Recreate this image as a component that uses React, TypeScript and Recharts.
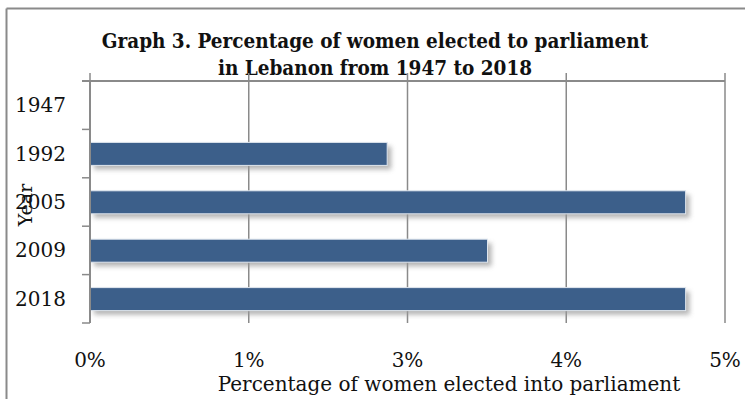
import React from 'react';
import { BarChart, Bar, XAxis, YAxis, CartesianGrid, Customized } from 'recharts';

const years = ['1947', '1992', '2005', '2009', '2018'];
const percentWomen = [0, 2.34, 4.69, 3.13, 4.69];
const xTicks = [0, 1.25, 2.5, 3.75, 5];
const titleLines = ['Graph 3. Percentage of women elected to parliament', 'in Lebanon from 1947 to 2018'];
const xAxisTitle = 'Percentage of women elected into parliament';
const yAxisTitle = 'Year';

const data = years.map((y, i) => ({ year: y, value: percentWomen[i] }));

const W = 745;
const H = 399;
const MARGIN = { top: 81, right: 20, bottom: 0, left: 0 };
const PLOT_RIGHT = W - MARGIN.right;
const TICK_LEN = 8;

const GRAY = '#8a8a8a';
const BAR = '#3c5f8a';
const SERIF = '"DejaVu Serif", serif';
const TITLE_FONT = '"DejaVu Serif Condensed", "DejaVu Serif", serif';

const YTick = (props: any) => {
  const { x, y, payload, index, visibleTicksCount } = props;
  const off = payload && typeof payload.offset === 'number' ? payload.offset : 0;
  const last = index === (visibleTicksCount ?? years.length) - 1;
  return (
    <g>
      <line x1={x - TICK_LEN} x2={index === 0 ? PLOT_RIGHT : x} y1={y - off} y2={y - off} stroke={GRAY} strokeWidth={index === 0 ? 2 : 1.5} />
      {last && <line x1={x - TICK_LEN} x2={x} y1={y + off} y2={y + off} stroke={GRAY} strokeWidth={1.5} />}
      <text x={x - 24} y={y} dy="0.35em" textAnchor="end" fontFamily={SERIF} fontSize={20} fill="#111">
        {payload.value}
      </text>
    </g>
  );
};

const XTick = (props: any) => {
  const { x, y, payload } = props;
  return (
    <g>
      <line x1={x} x2={x} y1={MARGIN.top - TICK_LEN} y2={MARGIN.top} stroke={GRAY} strokeWidth={1.5} />
      <text x={x} y={y} dy="0.71em" textAnchor="middle" fontFamily={SERIF} fontSize={20} fill="#111">
        {`${Math.round(payload.value)}%`}
      </text>
    </g>
  );
};

const ShadowBar = (props: any) => {
  const { x, y, width, height, index } = props;
  if (!width || width <= 0) return null;
  const id = `shadow-${index}`;
  return (
    <g>
      <defs>
        <filter id={id} x="-10%" y="-40%" width="130%" height="200%">
          <feGaussianBlur stdDeviation="2.5" />
        </filter>
      </defs>
      <rect x={x + 4} y={y + 4} width={width} height={height} fill="#9a9a9a" opacity={0.75} filter={`url(#${id})`} />
      <rect x={x} y={y} width={width} height={height} fill={BAR} stroke="#dfe6ee" strokeWidth={1} />
    </g>
  );
};

const Decor = () => (
  <g>
    <line x1={6.5} y1={8.5} x2={W} y2={8.5} stroke={GRAY} strokeWidth={2} />
    <line x1={6.5} y1={8.5} x2={6.5} y2={H} stroke={GRAY} strokeWidth={2} />
    <text x={375} y={48} textAnchor="middle" fontFamily={TITLE_FONT} fontWeight="bold" fontSize={20.5} fill="#111">
      {titleLines[0]}
    </text>
    <text x={375} y={75} textAnchor="middle" fontFamily={TITLE_FONT} fontWeight="bold" fontSize={20.5} fill="#111">
      {titleLines[1]}
    </text>
    <text x={449} y={391} textAnchor="middle" fontFamily={SERIF} fontSize={20} fill="#111">
      {xAxisTitle}
    </text>
    <text x={32} y={205} textAnchor="middle" transform="rotate(-90 32 205)" fontFamily={SERIF} fontSize={19} fill="#111">
      {yAxisTitle}
    </text>
  </g>
);

export default function App() {
  return (
    <div style={{ position: 'absolute', left: 0, top: 0, width: W, height: H, background: '#fff' }}>
      <BarChart width={W} height={H} data={data} layout="vertical" margin={MARGIN}>
        <CartesianGrid horizontal={false} vertical={true} stroke={GRAY} strokeWidth={1.5} />
        <XAxis
          type="number"
          domain={[0, 5]}
          ticks={xTicks}
          height={76}
          axisLine={false}
          tickLine={false}
          tickSize={0}
          tickMargin={30}
          tick={XTick}
        />
        <YAxis
          type="category"
          dataKey="year"
          width={90}
          axisLine={{ stroke: GRAY, strokeWidth: 2 }}
          tickLine={false}
          tickSize={0}
          tickMargin={0}
          tick={YTick}
        />
        <Bar dataKey="value" barSize={23} shape={ShadowBar} isAnimationActive={false} />
        <Customized component={Decor} />
      </BarChart>
    </div>
  );
}
